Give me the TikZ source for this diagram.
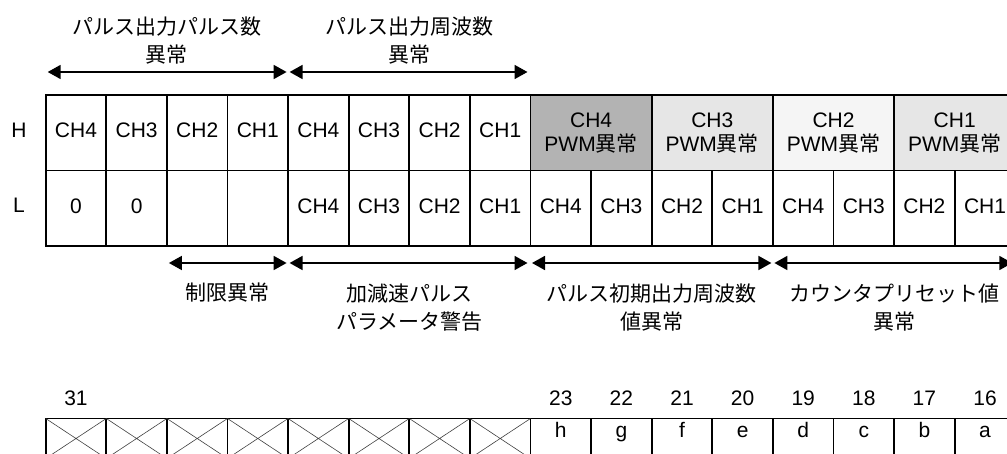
\documentclass[tikz,border=0pt]{standalone}
\usepackage{fontspec}
\setmainfont{Liberation Sans}
\newfontfamily\jpfont{Noto Sans CJK JP}
\usetikzlibrary{arrows.meta, positioning}
\definecolor{pwmdark}{HTML}{B3B3B3}
\definecolor{pwmlight}{HTML}{E6E6E6}
\definecolor{pwmpale}{HTML}{F5F5F5}
\tikzset{
	cell/.style={draw, line width=1.8pt, minimum width=60.6pt, minimum height=75.5pt,
		inner sep=0pt, outer sep=0pt, text height=15pt, text depth=5pt,
		font=\fontsize{21}{24}\selectfont},
	pwmcell/.style={cell, minimum width=121.2pt, align=center, text height=, text depth=},
	bitcell/.style={cell, minimum height=40pt, text height=14pt, text depth=17pt},
	bitnum/.style={font=\fontsize{21}{24}\selectfont},
	grouplbl/.style={align=center, font=\fontsize{21}{28}\selectfont\jpfont},
	rangearr/.style={{Triangle[length=13pt,width=14pt]}-{Triangle[length=13pt,width=14pt]}, line width=1.8pt},
	xline/.style={line width=0.6pt, draw=black!75}
}

\begin{document}
\begin{tikzpicture}[x=1pt, y=1pt]
	\useasboundingbox (0,0) rectangle (1007,-454);
	% H row
	\node[cell] (h1) at (76,-132.75) {CH4};
	\node[cell, right=0pt of h1] (h2) {CH3};
	\node[cell, right=0pt of h2] (h3) {CH2};
	\node[cell, right=0pt of h3] (h4) {CH1};
	\node[cell, right=0pt of h4] (h5) {CH4};
	\node[cell, right=0pt of h5] (h6) {CH3};
	\node[cell, right=0pt of h6] (h7) {CH2};
	\node[cell, right=0pt of h7] (h8) {CH1};
	\node[pwmcell, fill=pwmdark, right=0pt of h8] (p4) {CH4\\PWM{\jpfont 異常}};
	\node[pwmcell, fill=pwmlight, right=0pt of p4] (p3) {CH3\\PWM{\jpfont 異常}};
	\node[pwmcell, fill=pwmpale, right=0pt of p3] (p2) {CH2\\PWM{\jpfont 異常}};
	\node[pwmcell, fill=pwmlight, right=0pt of p2] (p1) {CH1\\PWM{\jpfont 異常}};
	% L row
	\node[cell, below=0pt of h1] (l1) {0};
	\node[cell, right=0pt of l1] (l2) {0};
	\node[cell, right=0pt of l2] (l3) {};
	\node[cell, right=0pt of l3] (l4) {};
	\node[cell, right=0pt of l4] (l5) {CH4};
	\node[cell, right=0pt of l5] (l6) {CH3};
	\node[cell, right=0pt of l6] (l7) {CH2};
	\node[cell, right=0pt of l7] (l8) {CH1};
	\node[cell, right=0pt of l8] (l9) {CH4};
	\node[cell, right=0pt of l9] (l10) {CH3};
	\node[cell, right=0pt of l10] (l11) {CH2};
	\node[cell, right=0pt of l11] (l12) {CH1};
	\node[cell, right=0pt of l12] (l13) {CH4};
	\node[cell, right=0pt of l13] (l14) {CH3};
	\node[cell, right=0pt of l14] (l15) {CH2};
	\node[cell, right=0pt of l15] (l16) {CH1};
	\node[bitnum] (rh) at ([xshift=-57pt, yshift=2.5pt]h1.center) {H};
	\node[bitnum] (rl) at ([xshift=-57pt, yshift=2.5pt]l1.center) {L};
	% ranges
	\draw[rangearr] ([xshift=2pt, yshift=23pt]h1.north west) -- ([xshift=-1.5pt, yshift=23pt]h5.north west);
	\draw[rangearr] ([xshift=1.5pt, yshift=23pt]h5.north west) -- ([xshift=-3pt, yshift=23pt]p4.north west);
	\node[grouplbl] (gpc) at ([yshift=54pt]h2.north east) {パルス出力パルス数\\異常};
	\node[grouplbl] (gpf) at ([yshift=54pt]h6.north east) {パルス出力周波数\\異常};
	\draw[rangearr] ([xshift=2pt, yshift=-17pt]l3.south west) -- ([xshift=-1.5pt, yshift=-17pt]l5.south west);
	\draw[rangearr] ([xshift=1.5pt, yshift=-17pt]l5.south west) -- ([xshift=-3pt, yshift=-17pt]l9.south west);
	\draw[rangearr] ([xshift=1.5pt, yshift=-17pt]l9.south west) -- ([xshift=-1.5pt, yshift=-17pt]l13.south west);
	\draw[rangearr] ([xshift=1.5pt, yshift=-17pt]l13.south west) -- ([xshift=-3pt, yshift=-17pt]l16.south east);
	\node[grouplbl] (glim) at ([yshift=-47pt]l3.south east) {制限異常};
	\node[grouplbl] (gacc) at ([yshift=-61.5pt]l6.south east) {加減速パルス\\パラメータ警告};
	\node[grouplbl] (gini) at ([yshift=-61.5pt]l10.south east) {パルス初期出力周波数\\値異常};
	\node[grouplbl] (gcnt) at ([yshift=-61.5pt]l14.south east) {カウンタプリセット値\\異常};
	% bit row
	\node[bitcell] (b1) at (76,-438.5) {};
	\node[bitcell, right=0pt of b1] (b2) {};
	\node[bitcell, right=0pt of b2] (b3) {};
	\node[bitcell, right=0pt of b3] (b4) {};
	\node[bitcell, right=0pt of b4] (b5) {};
	\node[bitcell, right=0pt of b5] (b6) {};
	\node[bitcell, right=0pt of b6] (b7) {};
	\node[bitcell, right=0pt of b7] (b8) {};
	\node[bitcell, right=0pt of b8] (b9) {h};
	\node[bitcell, right=0pt of b9] (b10) {g};
	\node[bitcell, right=0pt of b10] (b11) {f};
	\node[bitcell, right=0pt of b11] (b12) {e};
	\node[bitcell, right=0pt of b12] (b13) {d};
	\node[bitcell, right=0pt of b13] (b14) {c};
	\node[bitcell, right=0pt of b14] (b15) {b};
	\node[bitcell, right=0pt of b15] (b16) {a};
	\draw[xline] (b1.north west) -- (b1.south east) (b1.south west) -- (b1.north east);
	\draw[xline] (b2.north west) -- (b2.south east) (b2.south west) -- (b2.north east);
	\draw[xline] (b3.north west) -- (b3.south east) (b3.south west) -- (b3.north east);
	\draw[xline] (b4.north west) -- (b4.south east) (b4.south west) -- (b4.north east);
	\draw[xline] (b5.north west) -- (b5.south east) (b5.south west) -- (b5.north east);
	\draw[xline] (b6.north west) -- (b6.south east) (b6.south west) -- (b6.north east);
	\draw[xline] (b7.north west) -- (b7.south east) (b7.south west) -- (b7.north east);
	\draw[xline] (b8.north west) -- (b8.south east) (b8.south west) -- (b8.north east);
	\node[bitnum] (n31) at ([yshift=20.5pt]b1.north) {31};
	\node[bitnum] (n23) at ([yshift=20.5pt]b9.north) {23};
	\node[bitnum] (n22) at ([yshift=20.5pt]b10.north) {22};
	\node[bitnum] (n21) at ([yshift=20.5pt]b11.north) {21};
	\node[bitnum] (n20) at ([yshift=20.5pt]b12.north) {20};
	\node[bitnum] (n19) at ([yshift=20.5pt]b13.north) {19};
	\node[bitnum] (n18) at ([yshift=20.5pt]b14.north) {18};
	\node[bitnum] (n17) at ([yshift=20.5pt]b15.north) {17};
	\node[bitnum] (n16) at ([yshift=20.5pt]b16.north) {16};
\end{tikzpicture}
\end{document}
